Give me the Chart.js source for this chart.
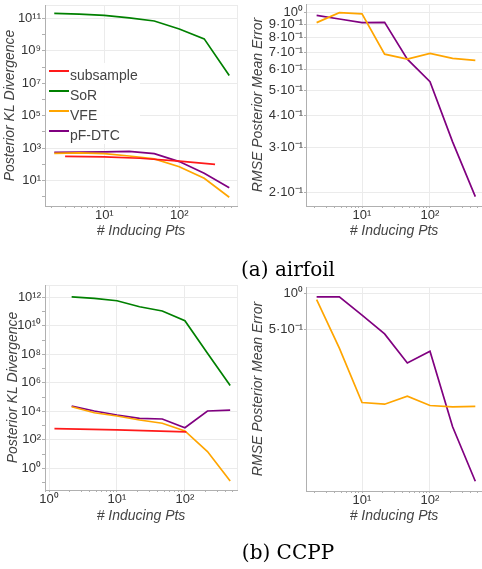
<!DOCTYPE html>
<html><head><meta charset="utf-8">
<script src="https://cdn.jsdelivr.net/npm/chart.js@4.4.1/dist/chart.umd.min.js"></script>
<style>
html,body{margin:0;padding:0;overflow:hidden;background:#fff;width:482px;height:569px;position:relative}
canvas{position:absolute}
.cap{position:absolute;font-family:"DejaVu Serif",serif;font-size:20px;line-height:24px;color:#000;white-space:nowrap;transform:translateX(-50%)}
</style></head>
<body>
<canvas id="tl"></canvas><canvas id="tr"></canvas><canvas id="bl"></canvas><canvas id="br"></canvas>
<div class="cap" style="left:288px;top:257px">(a) airfoil</div>
<div class="cap" style="left:288px;top:540px">(b) CCPP</div>
<script>
// ---------- data ----------
const X_PTS = [2.15, 4.64, 10, 21.5, 46.4, 100, 215, 464];
const SERIES = ['subsample', 'SoR', 'VFE', 'pF-DTC'];
const COLORS = ['#ff1a1a', '#008000', '#ffa500', '#800080'];

const AIR_SUB_X = [3, 10, 30, 100, 300];
const AIR_SUB_KL = [316, 290, 240, 160, 102];
const AIR_SOR_KL = [2.0e11, 1.8e11, 1.5e11, 1.05e11, 6.8e10, 2.2e10, 5.4e9, 3.0e7];
const AIR_VFE_KL = [480, 520, 460, 330, 220, 72, 14, 0.95];
const AIR_PF_KL = [560, 575, 600, 630, 460, 150, 29, 3.7];
const AIR_VFE_RMSE = [0.915, 1.0, 0.99, 0.69, 0.66, 0.695, 0.665, 0.653];
const AIR_PF_RMSE = [0.977, 0.945, 0.915, 0.917, 0.66, 0.54, 0.315, 0.193];

const CCPP_SUB_X = [1.2, 10, 105];
const CCPP_SUB_KL = [600, 490, 355];
const CCPP_SOR_KL = [1.1e12, 8.5e11, 5.8e11, 2.2e11, 1.1e11, 2.3e10, 1.2e8, 6.6e5];
const CCPP_VFE_KL = [21000, 7900, 4700, 2450, 1450, 420, 15, 0.13];
const CCPP_PF_KL = [23000, 10500, 5500, 3200, 2900, 710, 10500, 12300];
const CCPP_VFE_RMSE = [0.89, 0.35, 0.123, 0.119, 0.139, 0.116, 0.113, 0.114];
const CCPP_PF_RMSE = [0.94, 0.94, 0.66, 0.46, 0.263, 0.33, 0.077, 0.027];

// tick labels
const X_TICKS_A = [10, 100];
const X_LABELS_A = ['10¹', '10²'];
const X_TICKS_B = [1, 10, 100];
const X_LABELS_B = ['10⁰', '10¹', '10²'];
const KL_AIR_Y_TICKS = [1e1, 1e3, 1e5, 1e7, 1e9, 1e11];
const KL_AIR_Y_LABELS = ['10¹', '10³', '10⁵', '10⁷', '10⁹', '10¹¹'];
const KL_CCPP_Y_TICKS = [1, 1e2, 1e4, 1e6, 1e8, 1e10, 1e12];
const KL_CCPP_Y_LABELS = ['10⁰', '10²', '10⁴', '10⁶', '10⁸', '10¹⁰', '10¹²'];
const RMSE_AIR_Y_TICKS = [0.2, 0.3, 0.4, 0.5, 0.6, 0.7, 0.8, 0.9, 1];
const RMSE_AIR_Y_LABELS = ['2·10⁻¹', '3·10⁻¹', '4·10⁻¹', '5·10⁻¹', '6·10⁻¹', '7·10⁻¹', '8·10⁻¹', '9·10⁻¹', '10⁰'];
const RMSE_CCPP_Y_TICKS = [0.5, 1];
const RMSE_CCPP_Y_LABELS = ['5·10⁻¹', '10⁰'];

// ---------- helpers ----------
const FONT = '"Liberation Sans", Arial, sans-serif';
const P = 20;
const near = (a, b) => Math.abs(a - b) <= Math.abs(b) * 1e-6;

function minorDecades(min, max, mult) {
  const out = [];
  for (let k = Math.floor(Math.log10(min)) - 1; k <= Math.ceil(Math.log10(max)); k++) {
    for (const m of mult) {
      const v = m * Math.pow(10, k);
      if (v > min && v < max) out.push(v);
    }
  }
  return out;
}
function makeAxis(opts) {
  const {axis, min, max, tickVals, tickLabels, minor, size, title, titlePad, tickLen, tickPad} = opts;
  const all = [min, ...tickVals.filter(v => v > min && v < max), ...minor.filter(v => !tickVals.some(t => near(v, t))), max];
  all.sort((a, b) => a - b);
  const isEnd = v => near(v, min) || near(v, max);
  const isMajor = v => tickVals.some(t => near(v, t));
  return {
    type: 'logarithmic',
    position: axis === 'x' ? 'bottom' : 'left',
    min, max,
    afterBuildTicks: s => { s.ticks = all.map(v => ({value: v})); },
    afterFit: s => { if (axis === 'x') s.height = size; else s.width = size; },
    ticks: {
      autoSkip: false, maxRotation: 0, minRotation: 0, padding: tickPad,
      color: '#333', font: {family: FONT, size: 13},
      callback: v => { const i = tickVals.findIndex(t => near(v, t)); return i >= 0 ? tickLabels[i] : ''; }
    },
    grid: {
      drawTicks: true, tickLength: tickLen, lineWidth: 1,
      color: c => (c.tick && (isMajor(c.tick.value) || near(c.tick.value, max))) ? '#ebebeb' : 'rgba(0,0,0,0)',
      tickColor: c => (c.tick && !isEnd(c.tick.value)) ? '#b0b0b0' : 'rgba(0,0,0,0)'
    },
    border: {display: true, color: '#b0b0b0', width: 1},
    title: {display: true, text: title, color: '#444', font: {family: FONT, size: 14, style: 'italic'}, padding: titlePad}
  };
}
function ds(i, xs, ys) {
  return {label: SERIES[i], data: xs.map((x, k) => ({x, y: ys[k]})), borderColor: COLORS[i],
    backgroundColor: COLORS[i], borderWidth: 1.7, pointRadius: 0, fill: false, tension: 0};
}

const legendPlugin = {
  id: 'insideLegend',
  beforeDatasetsDraw(chart) {
    const ctx = chart.ctx, ca = chart.chartArea;
    const ox = ca.left - 45, oy = ca.top - 5; // page -> canvas offset
    ctx.save();
    ctx.fillStyle = 'rgba(255,255,255,0.92)';
    ctx.fillRect(46 + ox, 63 + oy, 94, 81);
    ctx.font = '14px ' + FONT;
    ctx.textBaseline = 'middle';
    ctx.fillStyle = '#444';
    SERIES.forEach((name, i) => {
      const y = 76 + i * 20 + oy;
      ctx.strokeStyle = COLORS[i];
      ctx.lineWidth = 2;
      ctx.beginPath(); ctx.moveTo(49 + ox, y - 5); ctx.lineTo(69 + ox, y - 5); ctx.stroke();
      ctx.fillText(name, 70 + ox, y);
    });
    ctx.restore();
  }
};

function build(id, geom, datasets, xAxis, yAxis, plugins) {
  const {L, T, R, B, W, H} = geom;
  const cv = document.getElementById(id);
  const w = P + W + (R - L) + P, h = P + (B - T) + H + P;
  cv.width = w; cv.height = h;
  cv.style.left = (L - W - P) + 'px';
  cv.style.top = (T - P) + 'px';
  cv.style.width = w + 'px'; cv.style.height = h + 'px';
  new Chart(cv, {
    type: 'line',
    data: {datasets},
    options: {
      responsive: false, animation: false, events: [], devicePixelRatio: 1,
      layout: {padding: P},
      plugins: {legend: {display: false}, tooltip: {enabled: false}},
      scales: {x: xAxis, y: yAxis}
    },
    plugins: plugins || []
  });
}

const XMULT = [1, 2, 3, 4, 5, 6, 7, 8, 9];

// top-left: airfoil KL
(function () {
  const xmin = 1.618, xmax = 588.8, ymin = 0.275, ymax = 6.6e11;
  build('tl', {L: 45, T: 5, R: 237, B: 206, W: 45, H: 34},
    [ds(0, AIR_SUB_X, AIR_SUB_KL), ds(1, X_PTS, AIR_SOR_KL), ds(2, X_PTS, AIR_VFE_KL), ds(3, X_PTS, AIR_PF_KL)],
    makeAxis({axis: 'x', min: xmin, max: xmax, tickVals: X_TICKS_A, tickLabels: X_LABELS_A, minor: minorDecades(xmin, xmax, XMULT),
      size: 34, title: '# Inducing Pts', titlePad: {top: 0, bottom: 0}, tickLen: 2, tickPad: 0}),
    makeAxis({axis: 'y', min: ymin, max: ymax, tickVals: KL_AIR_Y_TICKS, tickLabels: KL_AIR_Y_LABELS, minor: minorDecades(ymin, ymax, [1]),
      size: 45, title: 'Posterior KL Divergence', titlePad: {top: 2, bottom: 0}, tickLen: 3, tickPad: 1}),
    [legendPlugin]);
})();

// top-right: airfoil RMSE
(function () {
  const xmin = 1.5, xmax = 582, ymin = 0.1775, ymax = 1.081;
  build('tr', {L: 306, T: 4, R: 482, B: 206, W: 57, H: 34},
    [ds(2, X_PTS, AIR_VFE_RMSE), ds(3, X_PTS, AIR_PF_RMSE)],
    makeAxis({axis: 'x', min: xmin, max: xmax, tickVals: X_TICKS_A, tickLabels: X_LABELS_A, minor: minorDecades(xmin, xmax, XMULT),
      size: 34, title: '# Inducing Pts', titlePad: {top: 0, bottom: 0}, tickLen: 2, tickPad: 0}),
    makeAxis({axis: 'y', min: ymin, max: ymax, tickVals: RMSE_AIR_Y_TICKS, tickLabels: RMSE_AIR_Y_LABELS, minor: [],
      size: 57, title: 'RMSE Posterior Mean Error', titlePad: {top: 1, bottom: 0}, tickLen: 2, tickPad: 1}));
})();

// bottom-left: CCPP KL
(function () {
  const xmin = 0.871, xmax = 585, ymin = 0.0299, ymax = 7.4e12;
  build('bl', {L: 45, T: 285, R: 237, B: 490, W: 45, H: 35},
    [ds(0, CCPP_SUB_X, CCPP_SUB_KL), ds(1, X_PTS, CCPP_SOR_KL), ds(2, X_PTS, CCPP_VFE_KL), ds(3, X_PTS, CCPP_PF_KL)],
    makeAxis({axis: 'x', min: xmin, max: xmax, tickVals: X_TICKS_B, tickLabels: X_LABELS_B, minor: minorDecades(xmin, xmax, XMULT),
      size: 35, title: '# Inducing Pts', titlePad: {top: 0, bottom: 0}, tickLen: 2, tickPad: 0}),
    makeAxis({axis: 'y', min: ymin, max: ymax, tickVals: KL_CCPP_Y_TICKS, tickLabels: KL_CCPP_Y_LABELS, minor: minorDecades(ymin, ymax, [1]),
      size: 45, title: 'Posterior KL Divergence', titlePad: {top: 5, bottom: 0}, tickLen: 3, tickPad: 1}));
})();

// bottom-right: CCPP RMSE
(function () {
  const xmin = 1.5, xmax = 582, ymin = 0.0224, ymax = 1.135;
  build('br', {L: 306, T: 287, R: 482, B: 491, W: 57, H: 34},
    [ds(2, X_PTS, CCPP_VFE_RMSE), ds(3, X_PTS, CCPP_PF_RMSE)],
    makeAxis({axis: 'x', min: xmin, max: xmax, tickVals: X_TICKS_A, tickLabels: X_LABELS_A, minor: minorDecades(xmin, xmax, XMULT),
      size: 34, title: '# Inducing Pts', titlePad: {top: 0, bottom: 0}, tickLen: 2, tickPad: 0}),
    makeAxis({axis: 'y', min: ymin, max: ymax, tickVals: RMSE_CCPP_Y_TICKS, tickLabels: RMSE_CCPP_Y_LABELS, minor: [],
      size: 57, title: 'RMSE Posterior Mean Error', titlePad: {top: 1, bottom: 0}, tickLen: 2, tickPad: 1}));
})();
</script>
</body></html>
